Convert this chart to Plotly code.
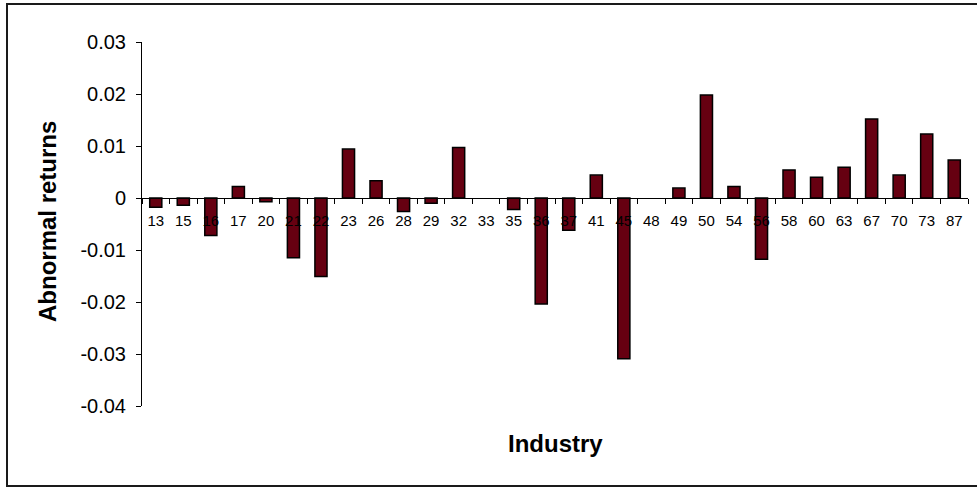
import plotly.graph_objects as go

industries = ["13", "15", "16", "17", "20", "21", "22", "23", "26", "28", "29", "32", "33", "35", "36",
              "37", "41", "45", "48", "49", "50", "54", "56", "58", "60", "63", "67", "70", "73", "87"]
abnormal_returns = [-0.0018, -0.0014, -0.0072, 0.0022, -0.0007, -0.0115, -0.0151, 0.0094, 0.0033, -0.0026,
                    -0.0010, 0.0097, 0.0, -0.0022, -0.0204, -0.0062, 0.0044, -0.0309, 0.0, 0.0019,
                    0.0198, 0.0022, -0.0118, 0.0054, 0.0040, 0.0059, 0.0152, 0.0044, 0.0123, 0.0073]
y_tick_vals = [0.03, 0.02, 0.01, 0.0, -0.01, -0.02, -0.03, -0.04]
y_tick_text = ["0.03", "0.02", "0.01", "0", "-0.01", "-0.02", "-0.03", "-0.04"]

W, H = 977, 487
ML, MR, MT, MB = 142, 9, 42, 81
PW, PH = W - ML - MR, H - MT - MB

def px_x(p):
    return (p - ML) / PW

def px_y(p):
    return (H - MB - p) / PH

FONT = "Arial, Liberation Sans, sans-serif"

# no outline on zero-height bars (Excel draws nothing there)
outline_widths = [0 if v == 0 else 1.5 for v in abnormal_returns]

fig = go.Figure(go.Bar(
    x=industries, y=abnormal_returns,
    marker=dict(color="#660011", line=dict(color="#000000", width=outline_widths)),
))

fig.update_layout(
    width=W, height=H,
    margin=dict(l=ML, r=MR, t=MT, b=MB),
    paper_bgcolor="white", plot_bgcolor="white",
    showlegend=False, bargap=0.56,
    font=dict(family=FONT, color="#000000"),
    xaxis=dict(
        type="category", anchor="free", position=4 / 7,
        showline=True, linecolor="#000000", linewidth=1,
        ticks="outside", ticklen=5, tickcolor="#000000", tickwidth=1,
        tickson="boundaries", showgrid=False, zeroline=False,
        tickfont=dict(size=15, family=FONT, color="#000000"),
        ticklabelstandoff=9,
    ),
    yaxis=dict(
        range=[-0.04, 0.03], domain=[0, 1],
        tickvals=y_tick_vals, ticktext=y_tick_text,
        showline=True, linecolor="#000000", linewidth=1,
        ticks="outside", ticklen=5, tickcolor="#000000", tickwidth=1,
        showgrid=False, zeroline=False,
        tickfont=dict(size=20, family=FONT, color="#000000"),
        ticklabelstandoff=6,
    ),
    annotations=[
        dict(text="<b>Abnormal returns</b>", xref="paper", yref="paper",
             x=px_x(47), y=px_y(222), textangle=-90, showarrow=False,
             xanchor="center", yanchor="middle",
             font=dict(size=24, family=FONT, color="#000000")),
        dict(text="<b>Industry</b>", xref="paper", yref="paper",
             x=px_x(555), y=px_y(443), showarrow=False,
             xanchor="center", yanchor="middle",
             font=dict(size=24, family=FONT, color="#000000")),
    ],
    shapes=[
        dict(type="rect", xref="paper", yref="paper",
             x0=px_x(7), x1=px_x(980), y0=px_y(486), y1=px_y(4),
             line=dict(color="#1a1a1a", width=2), fillcolor="rgba(0,0,0,0)",
             layer="below"),
    ],
)

fig.write_html("out.html")
